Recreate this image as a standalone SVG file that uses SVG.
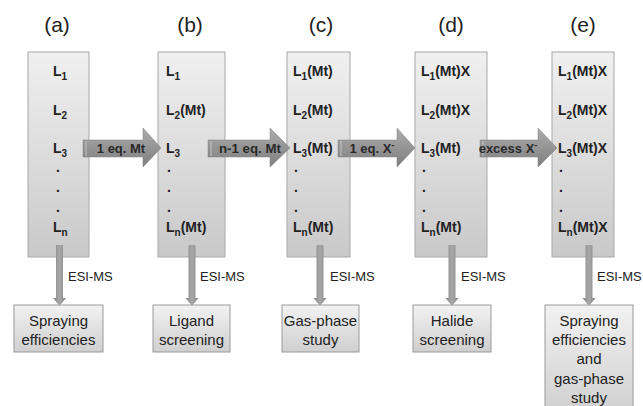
<svg xmlns="http://www.w3.org/2000/svg" width="643" height="406" viewBox="0 0 643 406">
  <defs>
    <linearGradient id="colFill" x1="0" y1="0" x2="0" y2="1">
      <stop offset="0" stop-color="#f0f0f0"/>
      <stop offset="1" stop-color="#c9c9c9"/>
    </linearGradient>
    <linearGradient id="resFill" x1="0" y1="0" x2="0" y2="1">
      <stop offset="0" stop-color="#f2f2f2"/>
      <stop offset="1" stop-color="#cfcfcf"/>
    </linearGradient>
    <linearGradient id="arrowFill" x1="0" y1="0" x2="0" y2="1">
      <stop offset="0" stop-color="#acacac"/>
      <stop offset="0.5" stop-color="#959595"/>
      <stop offset="1" stop-color="#7e7e7e"/>
    </linearGradient>
    <linearGradient id="stemFill" x1="0" y1="0" x2="1" y2="0">
      <stop offset="0" stop-color="#858585"/>
      <stop offset="0.5" stop-color="#a8a8a8"/>
      <stop offset="1" stop-color="#858585"/>
    </linearGradient>
  </defs>
  <style>
    .col { fill: url(#colFill); stroke: #a8a8a8; stroke-width: 1; }
    .res { fill: url(#resFill); stroke: #9a9a9a; stroke-width: 1; }
    .head { font-family: "Liberation Sans", Arial, sans-serif; font-size: 21px; fill: #222; text-anchor: middle; }
    .lig { font-family: "Liberation Sans", Arial, sans-serif; font-size: 14px; font-weight: bold; fill: #222; }
    .sub { font-size: 10px; }
    .arrow { fill: url(#arrowFill); stroke: #808080; stroke-width: 0.5; }
    .atxt { font-family: "Liberation Sans", Arial, sans-serif; font-size: 13px; font-weight: bold; fill: #2a2a2a; text-anchor: middle; }
    .stem { fill: url(#stemFill); }
    .esi { font-family: "Liberation Sans", Arial, sans-serif; font-size: 13px; fill: #222; }
    .rtxt { font-family: "Liberation Sans", Arial, sans-serif; font-size: 15px; fill: #222; text-anchor: middle; }
    .stripe { stroke: #c4c4c4; stroke-width: 1; }
  </style>

  <rect width="643" height="406" fill="#ffffff"/>

  <!-- column headings -->
  <g id="headings">
    <text class="head" x="57" y="32">(a)</text>
    <text class="head" x="190" y="32">(b)</text>
    <text class="head" x="321" y="32">(c)</text>
    <text class="head" x="451" y="32">(d)</text>
    <text class="head" x="583" y="32">(e)</text>
  </g>

  <!-- sample columns -->
  <g id="col-a">
    <rect class="col" x="28" y="52" width="61" height="205"/>
    <text class="lig" x="53" y="76">L<tspan class="sub" dy="4">1</tspan></text>
    <text class="lig" x="53" y="115">L<tspan class="sub" dy="4">2</tspan></text>
    <text class="lig" x="53" y="153">L<tspan class="sub" dy="4">3</tspan></text>
    <text class="lig" x="56" y="172">.</text>
    <text class="lig" x="56" y="192">.</text>
    <text class="lig" x="56" y="212">.</text>
    <text class="lig" x="53" y="232">L<tspan class="sub" dy="4">n</tspan></text>
  </g>
  <g id="col-b">
    <rect class="col" x="158" y="52" width="67" height="205"/>
    <text class="lig" x="166" y="76">L<tspan class="sub" dy="4">1</tspan></text>
    <text class="lig" x="166" y="115">L<tspan class="sub" dy="4">2</tspan><tspan dy="-4">(Mt)</tspan></text>
    <text class="lig" x="166" y="153">L<tspan class="sub" dy="4">3</tspan></text>
    <text class="lig" x="167" y="172">.</text>
    <text class="lig" x="167" y="192">.</text>
    <text class="lig" x="167" y="212">.</text>
    <text class="lig" x="166" y="232">L<tspan class="sub" dy="4">n</tspan><tspan dy="-4">(Mt)</tspan></text>
  </g>
  <g id="col-c">
    <rect class="col" x="287" y="52" width="63" height="205"/>
    <text class="lig" x="293" y="76">L<tspan class="sub" dy="4">1</tspan><tspan dy="-4">(Mt)</tspan></text>
    <text class="lig" x="293" y="115">L<tspan class="sub" dy="4">2</tspan><tspan dy="-4">(Mt)</tspan></text>
    <text class="lig" x="293" y="153">L<tspan class="sub" dy="4">3</tspan><tspan dy="-4">(Mt)</tspan></text>
    <text class="lig" x="294" y="172">.</text>
    <text class="lig" x="294" y="192">.</text>
    <text class="lig" x="294" y="212">.</text>
    <text class="lig" x="293" y="232">L<tspan class="sub" dy="4">n</tspan><tspan dy="-4">(Mt)</tspan></text>
  </g>
  <g id="col-d">
    <rect class="col" x="415" y="52" width="72" height="205"/>
    <text class="lig" x="421" y="76">L<tspan class="sub" dy="4">1</tspan><tspan dy="-4">(Mt)X</tspan></text>
    <text class="lig" x="421" y="115">L<tspan class="sub" dy="4">2</tspan><tspan dy="-4">(Mt)X</tspan></text>
    <text class="lig" x="421" y="153">L<tspan class="sub" dy="4">3</tspan><tspan dy="-4">(Mt)</tspan></text>
    <text class="lig" x="422" y="172">.</text>
    <text class="lig" x="422" y="192">.</text>
    <text class="lig" x="422" y="212">.</text>
    <text class="lig" x="421" y="232">L<tspan class="sub" dy="4">n</tspan><tspan dy="-4">(Mt)</tspan></text>
  </g>
  <g id="col-e">
    <rect class="col" x="552" y="52" width="62" height="205"/>
    <text class="lig" x="558" y="76">L<tspan class="sub" dy="4">1</tspan><tspan dy="-4">(Mt)X</tspan></text>
    <text class="lig" x="558" y="115">L<tspan class="sub" dy="4">2</tspan><tspan dy="-4">(Mt)X</tspan></text>
    <text class="lig" x="558" y="153">L<tspan class="sub" dy="4">3</tspan><tspan dy="-4">(Mt)X</tspan></text>
    <text class="lig" x="559" y="172">.</text>
    <text class="lig" x="559" y="192">.</text>
    <text class="lig" x="559" y="212">.</text>
    <text class="lig" x="558" y="232">L<tspan class="sub" dy="4">n</tspan><tspan dy="-4">(Mt)X</tspan></text>
  </g>

  <!-- result boxes -->
  <g id="res-a">
    <rect class="res" x="14" y="305" width="89" height="47"/>
    <text class="rtxt" x="58.5" y="326">Spraying</text>
    <text class="rtxt" x="58.5" y="345">efficiencies</text>
  </g>
  <g id="res-b">
    <rect class="res" x="153" y="305" width="77" height="47"/>
    <text class="rtxt" x="191.5" y="326">Ligand</text>
    <text class="rtxt" x="191.5" y="345">screening</text>
  </g>
  <g id="res-c">
    <rect class="res" x="282" y="305" width="77" height="47"/>
    <text class="rtxt" x="320.5" y="326">Gas-phase</text>
    <text class="rtxt" x="320.5" y="345">study</text>
  </g>
  <g id="res-d">
    <rect class="res" x="413" y="305" width="78" height="47"/>
    <text class="rtxt" x="452" y="326">Halide</text>
    <text class="rtxt" x="452" y="345">screening</text>
  </g>
  <g id="res-e">
    <rect class="res" x="545" y="305" width="88" height="110"/>
    <text class="rtxt" x="589" y="326">Spraying</text>
    <text class="rtxt" x="589" y="345">efficiencies</text>
    <text class="rtxt" x="589" y="364">and</text>
    <text class="rtxt" x="589" y="384">gas-phase</text>
    <text class="rtxt" x="589" y="403">study</text>
  </g>

  <!-- connectors -->
  <g id="connectors">
    <!-- horizontal block arrows between columns -->
    <path class="arrow" d="M83,140 H143 V128 L161,148 L143,167 V157 H83 Z"/>
    <line class="stripe" x1="86" y1="141" x2="86" y2="156"/>
    <text class="atxt" x="121" y="153">1 eq. Mt</text>

    <path class="arrow" d="M208,140 H270 V128 L290,148 L270,167 V157 H208 Z"/>
    <line class="stripe" x1="211" y1="141" x2="211" y2="156"/>
    <text class="atxt" x="250" y="153" textLength="62" lengthAdjust="spacingAndGlyphs">n-1 eq. Mt</text>

    <path class="arrow" d="M338,140 H397 V128 L415,148 L397,167 V157 H338 Z"/>
    <line class="stripe" x1="341" y1="141" x2="341" y2="156"/>
    <text class="atxt" x="372" y="153">1 eq. X<tspan dy="-5" font-size="9">-</tspan></text>

    <path class="arrow" d="M480,140 H538 V128 L557,148 L538,167 V157 H480 Z"/>
    <line class="stripe" x1="483" y1="141" x2="483" y2="156"/>
    <text class="atxt" x="508" y="153">excess X<tspan dy="-5" font-size="9">-</tspan></text>

    <!-- vertical ESI-MS arrows -->
    <path class="stem" d="M56,245 H63 V298 H66 L59.5,306 L53,298 H56 Z"/>
    <text class="esi" x="68" y="281">ESI-MS</text>

    <path class="stem" d="M188.5,245 H195.5 V298 H198.5 L192,306 L185.5,298 H188.5 Z"/>
    <text class="esi" x="200" y="281">ESI-MS</text>

    <path class="stem" d="M316.5,245 H323.5 V298 H326.5 L320,306 L313.5,298 H316.5 Z"/>
    <text class="esi" x="330" y="281">ESI-MS</text>

    <path class="stem" d="M448.5,245 H455.5 V298 H458.5 L452,306 L445.5,298 H448.5 Z"/>
    <text class="esi" x="461" y="281">ESI-MS</text>

    <path class="stem" d="M585.5,245 H592.5 V298 H595.5 L589,306 L582.5,298 H585.5 Z"/>
    <text class="esi" x="597" y="281">ESI-MS</text>
  </g>
</svg>
